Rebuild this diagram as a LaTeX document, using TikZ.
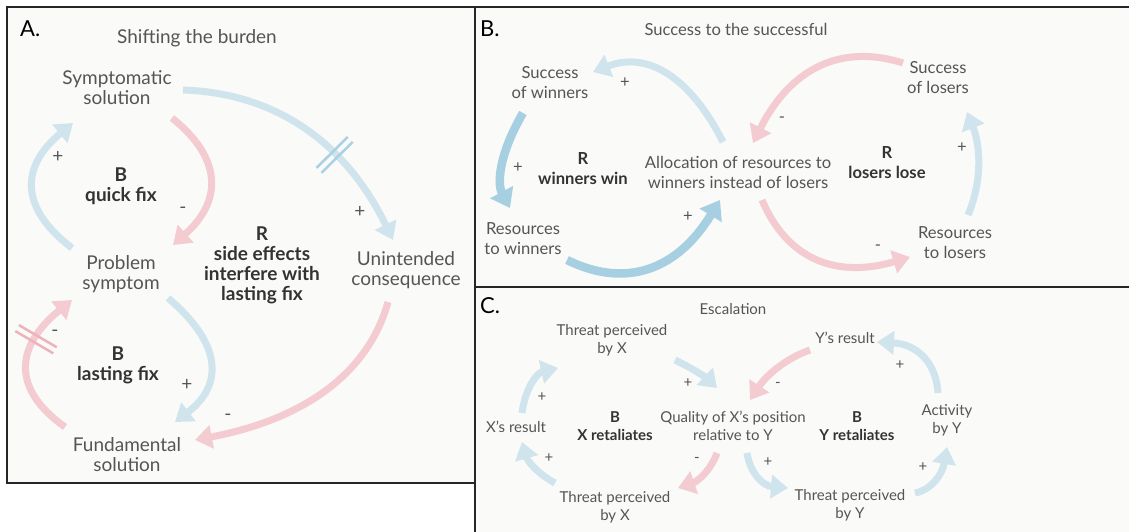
\documentclass[tikz,border=0pt]{standalone}
\usepackage{fontspec}
\setmainfont{Lato}
\usetikzlibrary{arrows.meta,decorations.markings}
\definecolor{lblue}{HTML}{CFE4EC}
\definecolor{barblue}{HTML}{A9D2E4}
\definecolor{dblue}{HTML}{A6CFE1}
\definecolor{lpink}{HTML}{F3CBD0}
\definecolor{barpink}{HTML}{EDB3BB}
\definecolor{txtgray}{HTML}{555555}
\definecolor{boldgray}{HTML}{333333}
\definecolor{panelbg}{HTML}{FAFAF8}
\begin{document}
\begin{tikzpicture}[x=1pt,y=-1pt,
  panel/.style={fill=panelbg,draw=black!85,line width=2.5pt},
  letter/.style={anchor=base west,inner sep=0pt,text=black,font=\fontsize{22}{22}\selectfont},
  title/.style={anchor=base,inner sep=0pt,text=txtgray},
  lab/.style={text=txtgray,align=center,inner sep=0pt},
  loopname/.style={text=boldgray,align=center,inner sep=0pt,execute at begin node=\bfseries},
  sign/.style={text=txtgray,inner sep=0pt},
  bigtext/.style={font=\fontsize{19}{20}\selectfont},
  midtext/.style={font=\fontsize{16.6}{20}\selectfont},
  smalltext/.style={font=\fontsize{15}{18}\selectfont},
  flow/.style={line width=7pt,-{Triangle[length=17pt,width=23pt]}},
  bflow/.style={flow,draw=lblue},
  dflow/.style={line width=8.5pt,draw=dblue,-{Triangle[length=18pt,width=25pt]}},
  pflow/.style={flow,draw=lpink},
  delay/.style 2 args={postaction={decorate,decoration={markings,
    mark=at position #1 with {\draw[-,line width=2.5pt,draw=#2]
      (-3.5,-22) -- (-3.5,22) (3.5,-22) -- (3.5,22);}}}}
]
\useasboundingbox (0,0) rectangle (1129,531);
\fill[white] (0,0) rectangle (1129,531);

% panel frames
\draw[panel] (7,7) rectangle (475,483);
\draw[panel] (475,7) rectangle (1140,287);
\draw[panel] (475,287) rectangle (1140,540);

% ---------------- A: shifting the burden ----------------
\node[letter] (letA) at (20,36) {A.};
\node[title,bigtext] (titA) at (197,43) {Shifting the burden};
\begin{scope}[every node/.append style={bigtext}]
\node[lab] (symp) at (117,88) {Symptomatic\\solution};
\node[lab] (prob) at (121,274) {Problem\\symptom};
\node[lab] (fund) at (127,455) {Fundamental\\solution};
\node[lab] (unint) at (406,270) {Unintended\\consequence};
\node[loopname] (qfix) at (121,186) {B\\quick fix};
\node[loopname] (side) at (262,265) {R\\side effects\\interfere with\\lasting fix};
\node[loopname] (lfix) at (118,365) {B\\lasting fix};
\node[sign] (sa1) at (58,157) {+};
\node[sign] (sa2) at (183,210) {-};
\node[sign] (sa3) at (360,212) {+};
\node[sign] (sa4) at (187,385) {+};
\node[sign] (sa5) at (55,333) {-};
\node[sign] (sa6) at (228,417) {-};
\end{scope}

\draw[bflow,delay={0.62}{barblue}] ([shift={(66,2)}]symp.center)
  .. controls (276,93) and (346,143) .. ([shift={(-13,-30)}]unint.center);
\draw[pflow] ([shift={(55,30)}]symp.center)
  .. controls (222.3,158.3) and (222.7,200.7) .. ([shift={(52,-29)}]prob.center);
\draw[bflow] ([shift={(-49,-26)}]prob.center)
  .. controls (19.7,208.3) and (20,166.7) .. ([shift={(-44,35)}]symp.center);
\draw[bflow] ([shift={(47,24)}]prob.center)
  .. controls (221.7,343.3) and (224,384.7) .. ([shift={(48,-33)}]fund.center);
\draw[pflow,delay={0.66}{barpink}] ([shift={(-62,-28)}]fund.center)
  .. controls (12,389.3) and (14.3,347) .. ([shift={(-49,26)}]prob.center);
\draw[pflow] ([shift={(-18,32)}]unint.center)
  .. controls (368.3,373.3) and (304,419.3) .. ([shift={(68,-15)}]fund.center);

% ---------------- B: success to the successful ----------------
\node[letter] (letB) at (480,36) {B.};
\node[title,midtext] (titB) at (736,35) {Success to the successful};
\begin{scope}[every node/.append style={midtext}]
\node[lab] (sw) at (550,83) {Success\\of winners};
\node[lab] (sl) at (938,78) {Success\\of losers};
\node[lab] (alloc) at (738,172) {Allocation of resources to\\winners instead of losers};
\node[lab] (rw) at (523,239) {Resources\\to winners};
\node[lab] (rl) at (955,243) {Resources\\to losers};
\node[loopname] (ww) at (583,169) {R\\winners win};
\node[loopname] (ll) at (887,163) {R\\losers lose};
\node[sign] (sb1) at (625,83) {+};
\node[sign] (sb2) at (518,168) {+};
\node[sign] (sb3) at (688,217) {+};
\node[sign] (sb4) at (878,248) {-};
\node[sign] (sb5) at (962,148) {+};
\node[sign] (sb6) at (782,120) {-};
\end{scope}

\draw[bflow] ([shift={(-15,-30)}]alloc.center)
  .. controls (689,74.7) and (645.7,51.3) .. ([shift={(43,-11)}]sw.center);
\draw[dflow] ([shift={(-27,30)}]sw.center)
  .. controls (500.7,150.7) and (496.3,182.3) .. ([shift={(-13,-31)}]rw.center);
\draw[dflow] ([shift={(44,21)}]rw.center)
  .. controls (626.7,289.3) and (677.7,269.3) .. ([shift={(-18,28)}]alloc.center);
\draw[pflow] ([shift={(24,28)}]alloc.center)
  .. controls (787.3,259.7) and (836.7,278.7) .. ([shift={(-45,14)}]rl.center);
\draw[bflow] ([shift={(13,-28)}]rl.center)
  .. controls (981.7,182.7) and (981.3,148.3) .. ([shift={(29,34)}]sl.center);
\draw[pflow] ([shift={(-35,-15)}]sl.center)
  .. controls (839.7,43) and (789.7,69.7) .. ([shift={(15,-29)}]alloc.center);

% ---------------- C: escalation ----------------
\node[letter] (letC) at (480,313) {C.};
\node[title,smalltext] (titC) at (733,314) {Escalation};
\begin{scope}[every node/.append style={smalltext}]
\node[lab] (tx) at (612,340) {Threat perceived\\by X};
\node[lab] (yr) at (845,338) {Y's result};
\node[lab] (xr) at (516,427) {X's result};
\node[loopname] (xret) at (615,426) {B\\X retaliates};
\node[lab] (qual) at (733,426) {Quality of X's position\\relative to Y};
\node[loopname] (yret) at (857,426) {B\\Y retaliates};
\node[lab] (act) at (947,420) {Activity\\by Y};
\node[lab] (bx) at (615,507) {Threat perceived\\by X};
\node[lab] (by) at (850,505) {Threat perceived\\by Y};
\node[sign] (sc1) at (688,383) {+};
\node[sign] (sc2) at (778,385) {-};
\node[sign] (sc3) at (900,365) {+};
\node[sign] (sc4) at (923,467) {+};
\node[sign] (sc5) at (768,462) {+};
\node[sign] (sc6) at (697,460) {-};
\node[sign] (sc7) at (549,458) {+};
\node[sign] (sc8) at (542,397) {+};
\end{scope}

\draw[bflow] ([shift={(63,20)}]tx.center)
  .. controls (691.7,368) and (705.7,377.3) .. ([shift={(-16,-38)}]qual.center);
\draw[pflow] ([shift={(-35,12)}]yr.center)
  .. controls (786.7,358) and (766.7,374.7) .. ([shift={(17,-26)}]qual.center);
\draw[bflow] ([shift={(-9,-27)}]act.center)
  .. controls (936,361) and (915.7,344) .. ([shift={(32,4)}]yr.center);
\draw[bflow] ([shift={(65,-12)}]by.center)
  .. controls (931.7,489.7) and (942.3,474.3) .. ([shift={(0,27)}]act.center);
\draw[bflow] ([shift={(14,27)}]qual.center)
  .. controls (750.3,474.3) and (764,486) .. ([shift={(-62,-17)}]by.center);
\draw[pflow] ([shift={(-16,27)}]qual.center)
  .. controls (711,469.7) and (698,481.3) .. ([shift={(63,-19)}]bx.center);
\draw[bflow] ([shift={(-60,-24)}]bx.center)
  .. controls (538.3,474.3) and (527.3,460.7) .. ([shift={(6,15)}]xr.center);
\draw[bflow] ([shift={(6,-14)}]xr.center)
  .. controls (525.3,387.7) and (537.3,372.7) .. ([shift={(-54,28)}]tx.center);
\end{tikzpicture}
\end{document}
